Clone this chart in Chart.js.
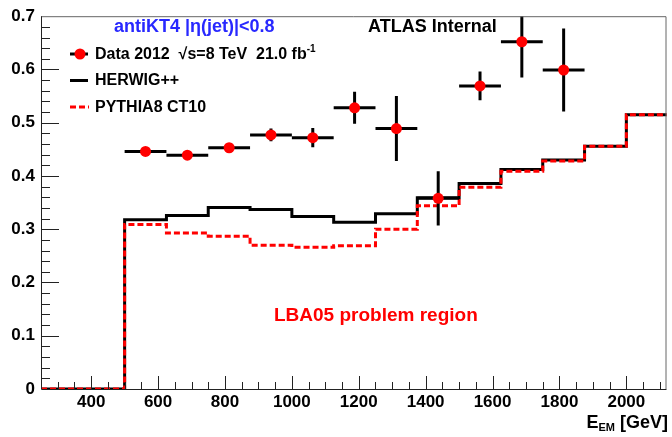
<!DOCTYPE html>
<html>
<head>
<title>Response vs E_EM</title>
<script src="https://cdn.jsdelivr.net/npm/chart.js"></script>
<style>
  body { margin: 0; background: #fff; }
  canvas { display: block; }
</style>
</head>
<body>
<canvas id="respChart" width="672" height="437"></canvas>
<script>
// bin edges in GeV (two empty bins below 500)
const binEdges = [250, 375, 500, 625, 750, 875, 1000, 1125, 1250, 1375, 1500, 1625, 1750, 1875, 2000, 2125];
const herwigValues = [0, 0, 0.318, 0.326, 0.341, 0.337, 0.324, 0.313, 0.329, 0.359, 0.386, 0.412, 0.430, 0.456, 0.515];
const pythiaValues = [0, 0, 0.309, 0.293, 0.287, 0.270, 0.266, 0.269, 0.300, 0.344, 0.379, 0.409, 0.428, 0.456, 0.515];
const dataValues = [null, null, 0.446, 0.439, 0.453, 0.477, 0.472, 0.528, 0.489, 0.358, 0.569, 0.652, 0.599, null, null];
const dataErrors = [null, null, 0.008, 0.006, 0.008, 0.012, 0.018, 0.030, 0.061, 0.051, 0.027, 0.067, 0.078, null, null];
const xTickLabels = [400, 600, 800, 1000, 1200, 1400, 1600, 1800, 2000];
const yTickLabels = [0, 0.1, 0.2, 0.3, 0.4, 0.5, 0.6, 0.7];

const FONT = '"Liberation Sans", Arial, Helvetica, sans-serif';
Chart.defaults.font.family = FONT;

function histPoints(values) {
    const pts = values.map((v, i) => ({x: binEdges[i], y: v}));
    pts.push({x: binEdges[binEdges.length - 1], y: values[values.length - 1]});
    return pts;
}

function dataPoints() {
    const pts = [];
    dataValues.forEach((v, i) => {
        if (v === null) return;
        pts.push({x: (binEdges[i] + binEdges[i + 1]) / 2, y: v, err: dataErrors[i],
                  lo: binEdges[i], hi: binEdges[i + 1]});
    });
    return pts;
}

// error bars under the data markers
const errorBars = {
    id: 'errorBars',
    beforeDatasetDraw(chart, args) {
        if (args.index !== 0) return;
        const {ctx, chartArea: a, scales: {x, y}} = chart;
        ctx.save();
        ctx.beginPath();
        ctx.rect(a.left, a.top, a.right - a.left, a.bottom - a.top);
        ctx.clip();
        ctx.strokeStyle = '#000';
        ctx.lineWidth = 3;
        chart.data.datasets[0].data.forEach(p => {
            const px = x.getPixelForValue(p.x), py = y.getPixelForValue(p.y);
            ctx.beginPath();
            ctx.moveTo(x.getPixelForValue(p.lo), py);
            ctx.lineTo(x.getPixelForValue(p.hi), py);
            ctx.moveTo(px, y.getPixelForValue(p.y + p.err));
            ctx.lineTo(px, y.getPixelForValue(p.y - p.err));
            ctx.stroke();
        });
        ctx.restore();
    }
};

// ROOT style frame with inside ticks
const frameTicks = {
    id: 'frameTicks',
    afterDatasetsDraw(chart) {
        const {ctx, chartArea: a, scales: {x, y}} = chart;
        ctx.save();
        ctx.strokeStyle = '#666';
        ctx.lineWidth = 1;
        ctx.beginPath();
        ctx.moveTo(a.left + 0.5, a.top + 0.5);
        ctx.lineTo(a.right - 0.5, a.top + 0.5);
        ctx.lineTo(a.right - 0.5, a.bottom);
        ctx.stroke();
        ctx.strokeStyle = '#222';
        ctx.beginPath();
        ctx.moveTo(a.left + 0.5, a.top);
        ctx.lineTo(a.left + 0.5, a.bottom + 0.5);
        ctx.lineTo(a.right, a.bottom + 0.5);
        ctx.stroke();
        ctx.beginPath();
        for (let i = 1; i < 35; i++) {
            const py = Math.round(y.getPixelForValue(i * 0.02)) + 0.5;
            ctx.moveTo(a.left, py);
            ctx.lineTo(a.left + (i % 5 === 0 ? 18 : 9), py);
        }
        for (let v = 300; v < 2120; v += 50) {
            const px = Math.round(x.getPixelForValue(v)) + 0.5;
            ctx.moveTo(px, a.bottom);
            ctx.lineTo(px, a.bottom - (v % 200 === 0 ? 13 : 7));
        }
        ctx.stroke();
        ctx.restore();
    }
};

// legend and labels
const annotations = {
    id: 'annotations',
    afterDraw(chart) {
        const ctx = chart.ctx;
        ctx.save();
        ctx.textBaseline = 'middle';
        ctx.textAlign = 'left';

        ctx.font = 'bold 18px ' + FONT;
        ctx.fillStyle = '#2828ff';
        ctx.fillText('antiKT4 |\u03b7(jet)|<0.8', 114, 27.5);
        ctx.fillStyle = '#000';
        ctx.fillText('ATLAS Internal', 368, 27.5);

        // legend rows
        ctx.lineWidth = 3;
        ctx.strokeStyle = '#000';
        ctx.beginPath();
        ctx.moveTo(70, 54); ctx.lineTo(88, 54);
        ctx.moveTo(70, 80.5); ctx.lineTo(88, 80.5);
        ctx.stroke();
        ctx.fillStyle = '#ff0000';
        ctx.beginPath();
        ctx.arc(80, 54, 5.5, 0, Math.PI * 2);
        ctx.fill();
        ctx.strokeStyle = '#ff0000';
        ctx.setLineDash([6, 3]);
        ctx.beginPath();
        ctx.moveTo(70, 107); ctx.lineTo(89, 107);
        ctx.stroke();
        ctx.setLineDash([]);

        ctx.fillStyle = '#000';
        ctx.font = 'bold 16px ' + FONT;
        const dataLabel = 'Data 2012  \u221As=8 TeV  21.0 fb';
        ctx.fillText(dataLabel, 95, 54.5);
        const w = ctx.measureText(dataLabel).width;
        ctx.font = 'bold 10px ' + FONT;
        ctx.fillText('-1', 95 + w, 49);
        ctx.font = 'bold 16px ' + FONT;
        ctx.fillText('HERWIG++', 95, 81);
        ctx.fillText('PYTHIA8 CT10', 95, 107.5);

        ctx.fillStyle = '#ff0000';
        ctx.font = 'bold 19px ' + FONT;
        ctx.fillText('LBA05 problem region', 274, 316);

        // axis title E_EM [GeV], right aligned
        ctx.fillStyle = '#000';
        ctx.font = 'bold 18px ' + FONT;
        const tail = ' [GeV]';
        const wt = ctx.measureText(tail).width;
        ctx.font = 'bold 11px ' + FONT;
        const ws = ctx.measureText('EM').width;
        ctx.font = 'bold 18px ' + FONT;
        const we = ctx.measureText('E').width;
        let x0 = 668 - wt - ws - we;
        ctx.fillText('E', x0, 423);
        ctx.font = 'bold 11px ' + FONT;
        ctx.fillText('EM', x0 + we, 428);
        ctx.font = 'bold 18px ' + FONT;
        ctx.fillText(tail, x0 + we + ws, 423);
        ctx.restore();
    }
};

new Chart(document.getElementById('respChart').getContext('2d'), {
    type: 'line',
    data: {
        datasets: [
            {
                label: 'Data 2012',
                data: dataPoints(),
                showLine: false,
                pointRadius: 5.5,
                pointBackgroundColor: '#ff0000',
                pointBorderWidth: 0,
                order: 0
            },
            {
                label: 'PYTHIA8 CT10',
                data: histPoints(pythiaValues),
                stepped: 'before',
                borderColor: '#ff0000',
                borderWidth: 3,
                borderDash: [6, 3],
                pointRadius: 0,
                fill: false,
                order: 1
            },
            {
                label: 'HERWIG++',
                data: histPoints(herwigValues),
                stepped: 'before',
                borderColor: '#000000',
                borderWidth: 3,
                pointRadius: 0,
                fill: false,
                order: 2
            }
        ]
    },
    options: {
        responsive: false,
        animation: false,
        devicePixelRatio: 1,
        layout: {padding: {left: 0, top: 15, right: 1, bottom: 0}},
        plugins: {legend: {display: false}, tooltip: {enabled: false}},
        scales: {
            x: {
                type: 'linear',
                min: 250,
                max: 2120,
                afterBuildTicks: s => { s.ticks = xTickLabels.map(v => ({value: v})); },
                afterFit: s => { s.height = 48; },
                grid: {display: false, drawTicks: false},
                border: {display: false},
                ticks: {font: {size: 17, weight: 'bold'}, color: '#000', padding: 3,
                        maxRotation: 0, autoSkip: false, callback: v => String(v)}
            },
            y: {
                min: 0,
                max: 0.7,
                afterBuildTicks: s => { s.ticks = yTickLabels.map(v => ({value: v})); },
                afterFit: s => { s.width = 41; },
                grid: {display: false, drawTicks: false},
                border: {display: false},
                ticks: {font: {size: 17, weight: 'bold'}, color: '#000', padding: 6,
                        autoSkip: false, callback: v => String(v)}
            }
        }
    },
    plugins: [errorBars, frameTicks, annotations]
});
</script>
</body>
</html>
